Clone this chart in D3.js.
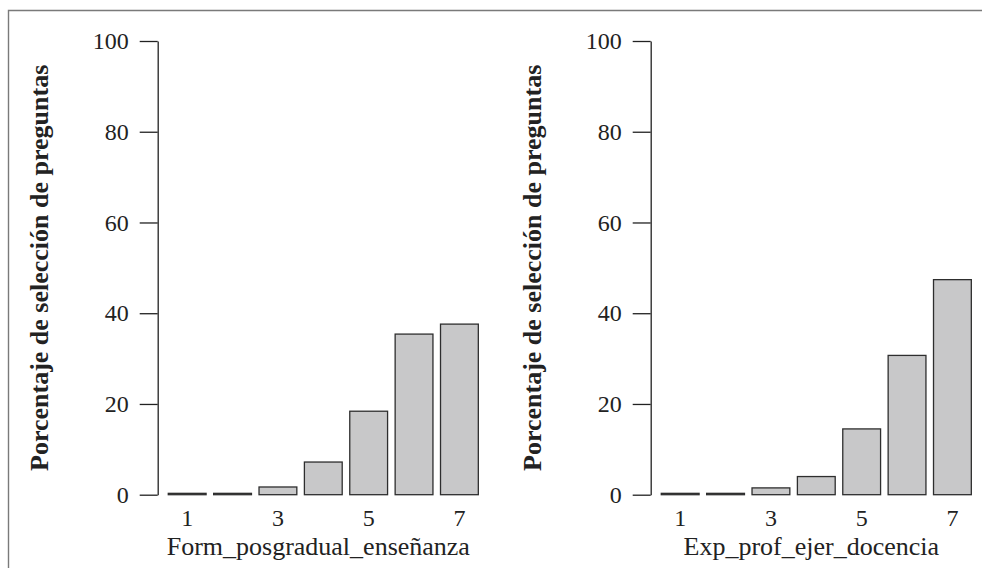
<!DOCTYPE html>
<html>
<head>
<meta charset="utf-8">
<script src="https://cdn.jsdelivr.net/npm/d3@7"></script>
<style>
  html, body { margin: 0; padding: 0; background: #fff; }
  svg { display: block; }
  text { font-family: "Liberation Serif", "Times New Roman", serif; fill: #222; }
</style>
</head>
<body>
<svg id="chart" width="982" height="568"></svg>
<script>
// Response levels (1–7) shared by both panels
const categories = ["1", "2", "3", "4", "5", "6", "7"];
const xTickLabels = ["1", "3", "5", "7"];
const yTicks = [0, 20, 40, 60, 80, 100];

// Percentage of question selection per level
const formPosgradual = [0.3, 0.3, 1.7, 7.2, 18.4, 35.4, 37.6];
const expProf = [0.3, 0.3, 1.5, 4.0, 14.5, 30.7, 47.4];

const panelTitles = ["Form_posgradual_enseñanza", "Exp_prof_ejer_docencia"];
const yTitle = "Porcentaje de selección de preguntas";

const FONT = '"Liberation Serif", "Times New Roman", serif';

const svg = d3.select("#chart");

// outer frame (top and left edges)
svg.append("path")
  .attr("d", "M8.5,568V10.5H982")
  .attr("fill", "none")
  .attr("stroke", "#7a7a7a")
  .attr("stroke-width", 1.4);

const y = d3.scaleLinear().domain([0, 100]).range([494.7, 41]);

const panels = [
  { values: formPosgradual, title: panelTitles[0], offset: 0 },
  { values: expProf, title: panelTitles[1], offset: 493 }
];

panels.forEach(p => {
  const g = svg.append("g").attr("transform", `translate(${p.offset},0)`);

  const x = d3.scaleBand()
    .domain(categories)
    .range([164.5, 482.1])
    .paddingInner(0.1667)
    .paddingOuter(0.0833);

  // bars
  g.append("g").selectAll("rect")
    .data(p.values)
    .join("rect")
    .attr("x", (d, i) => x(categories[i]))
    .attr("width", x.bandwidth())
    .attr("y", d => y(d))
    .attr("height", d => y(0) - y(d))
    .attr("fill", "#c8c8c9")
    .attr("stroke", "#2e2e2e")
    .attr("stroke-width", 1.3);

  // y axis
  const yAxis = g.append("g")
    .attr("transform", "translate(157.7,0)")
    .call(d3.axisLeft(y).tickValues(yTicks).tickSize(18).tickSizeOuter(0).tickPadding(11))
    .attr("font-family", FONT)
    .attr("font-size", 24);
  yAxis.selectAll("path, line").attr("stroke", "#222").attr("stroke-width", 1.3);
  yAxis.selectAll("text").attr("fill", "#222");

  // x tick labels (no axis line)
  const xAxis = g.append("g")
    .attr("transform", `translate(0,${y(0)})`)
    .call(d3.axisBottom(x).tickValues(xTickLabels).tickSize(0).tickPadding(14))
    .attr("font-family", FONT)
    .attr("font-size", 24);
  xAxis.select(".domain").remove();
  xAxis.selectAll("text").attr("fill", "#222");

  // x title
  const [r0, r1] = x.range();
  g.append("text")
    .attr("x", (r0 + r1) / 2 - 5)
    .attr("y", 555)
    .attr("text-anchor", "middle")
    .attr("font-family", FONT)
    .attr("font-size", 26)
    .text(p.title);

  // y title
  g.append("text")
    .attr("transform", `translate(48,${(y(0) + y(100)) / 2}) rotate(-90)`)
    .attr("text-anchor", "middle")
    .attr("font-family", FONT)
    .attr("font-size", 26)
    .attr("font-weight", "bold")
    .text(yTitle);
});
</script>
</body>
</html>
